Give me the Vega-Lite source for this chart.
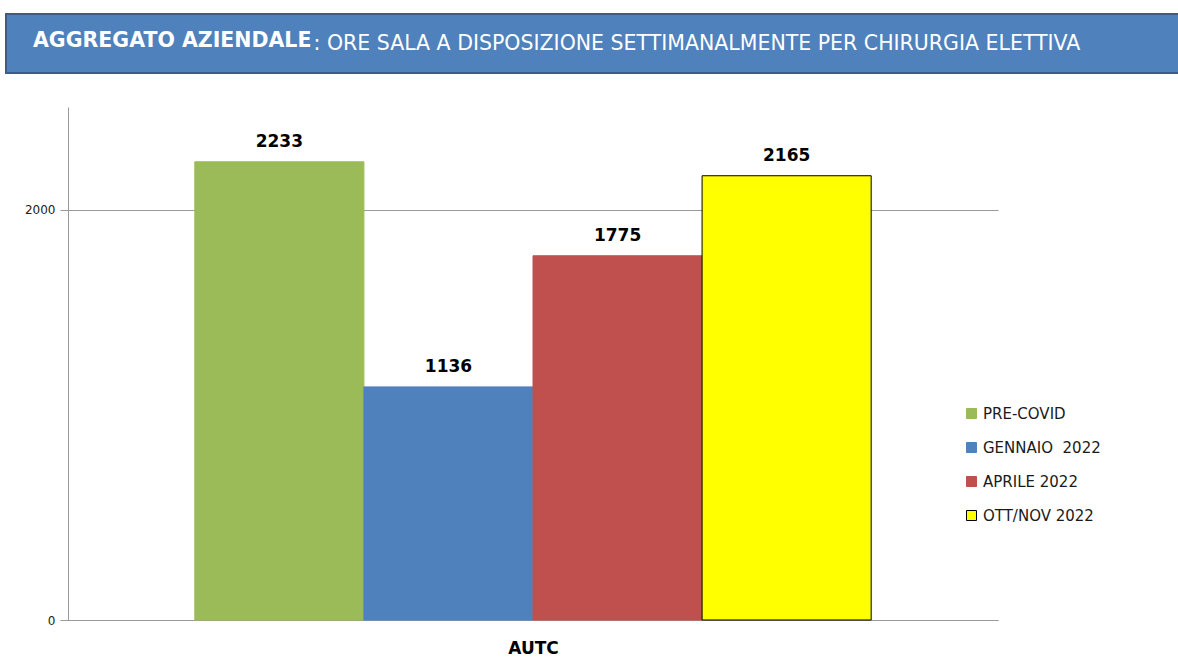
{
  "$schema": "https://vega.github.io/schema/vega-lite/v6.json",
  "background": "white",
  "padding": {"left": 5, "top": 13, "right": 0, "bottom": 0},
  "config": {"view": {"stroke": null}, "font": "DejaVu Sans"},
  "spacing": 33,
  "vconcat": [
    {
      "width": 1180,
      "height": 59,
      "view": {"fill": "#4f81bd", "stroke": "#385d8a", "strokeWidth": 2},
      "title": {
        "text": "AGGREGATO AZIENDALE",
        "anchor": "start",
        "orient": "top",
        "offset": 0,
        "dx": 27,
        "dy": 53,
        "baseline": "alphabetic",
        "fontSize": 20.5,
        "fontWeight": "bold",
        "color": "white"
      },
      "data": {"values": [{"k": 0}]},
      "mark": {"type": "point", "opacity": 0},
      "encoding": {
        "x": {
          "field": "k",
          "type": "quantitative",
          "axis": {
            "orient": "top",
            "title": ": ORE SALA A DISPOSIZIONE SETTIMANALMENTE PER CHIRURGIA ELETTIVA",
            "labels": false,
            "ticks": false,
            "domain": false,
            "grid": false,
            "titleX": 307,
            "titleY": 35,
            "titleAlign": "left",
            "titleBaseline": "alphabetic",
            "titleFontSize": 20.5,
            "titleFontWeight": "normal",
            "titleColor": "white",
            "titlePadding": 0
          }
        }
      }
    },
    {
      "spacing": 0,
      "hconcat": [
        {
          "width": 1,
          "height": 1,
          "data": {"values": [{"k": 0}]},
          "mark": {"type": "point", "opacity": 0, "size": 0}
        },
        {
          "width": 930,
          "height": 513,
          "data": {
            "values": [
              {"gruppo": "AUTC", "periodo": "PRE-COVID", "ore": 2233},
              {"gruppo": "AUTC", "periodo": "\u00a0GENNAIO\u00a0\u00a02022", "ore": 1136},
              {"gruppo": "AUTC", "periodo": "\u00a0APRILE 2022", "ore": 1775},
              {"gruppo": "AUTC", "periodo": "OTT/NOV 2022", "ore": 2165}
            ]
          },
          "encoding": {
            "x": {
              "field": "periodo",
              "type": "nominal",
              "sort": null,
              "scale": {"paddingInner": 0, "paddingOuter": 0.75},
              "axis": {
                "title": "AUTC",
                "labels": false,
                "ticks": false,
                "domain": true,
                "domainColor": "#9a9a9a",
                "titleFontSize": 17,
                "titleFontWeight": "bold",
                "titleColor": "black",
                "titlePadding": 20
              }
            },
            "y": {
              "field": "ore",
              "type": "quantitative",
              "scale": {"domain": [0, 2500], "nice": false},
              "axis": {
                "values": [0, 2000],
                "format": "d",
                "title": null,
                "grid": true,
                "gridColor": "#9a9a9a",
                "domainColor": "#9a9a9a",
                "tickColor": "#9a9a9a",
                "tickSize": 8,
                "labelFontSize": 12,
                "labelColor": "#222222",
                "labelPadding": 5,
                "minExtent": 61,
                "maxExtent": 61
              }
            }
          },
          "layer": [
            {
              "mark": {"type": "bar", "strokeWidth": 1},
              "encoding": {
                "color": {
                  "field": "periodo",
                  "type": "nominal",
                  "sort": null,
                  "scale": {"range": ["#9bbb59", "#4f81bd", "#c0504d", "#ffff00"]},
                  "legend": {
                    "orient": "none",
                    "legendX": 958,
                    "legendY": 392,
                    "title": null,
                    "padding": 0,
                    "symbolType": "square",
                    "symbolSize": 100,
                    "symbolStrokeWidth": 1,
                    "labelFontSize": 15,
                    "labelColor": "#1a1a1a",
                    "labelOffset": 4,
                    "rowPadding": 18
                  }
                },
                "stroke": {
                  "field": "periodo",
                  "type": "nominal",
                  "sort": null,
                  "scale": {"range": ["#9bbb59", "#4f81bd", "#c0504d", "#000000"]},
                  "legend": {
                    "orient": "none",
                    "legendX": 958,
                    "legendY": 392,
                    "title": null,
                    "padding": 0,
                    "symbolType": "square",
                    "symbolSize": 100,
                    "symbolStrokeWidth": 1,
                    "labelFontSize": 15,
                    "labelColor": "#1a1a1a",
                    "labelOffset": 4,
                    "rowPadding": 18
                  }
                }
              }
            },
            {
              "mark": {"type": "text", "baseline": "bottom", "dy": -11, "fontSize": 17, "fontWeight": "bold", "color": "black"},
              "encoding": {"text": {"field": "ore", "type": "quantitative"}}
            }
          ]
        }
      ]
    }
  ]
}
